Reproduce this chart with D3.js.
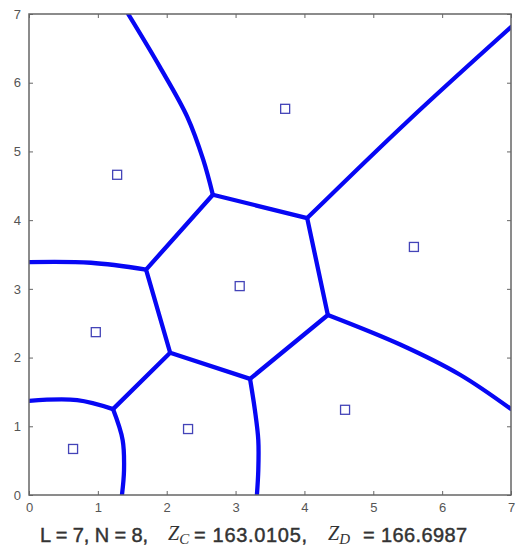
<!DOCTYPE html>
<html>
<head>
<meta charset="utf-8">
<script src="https://cdn.jsdelivr.net/npm/d3@7"></script>
<style>
  body { margin: 0; background: #fff; }
  svg { display: block; }
  .tick text { font-family: "Liberation Sans", Arial, sans-serif; font-size: 13px; fill: #555; }
  .tick line { stroke: #666; }
</style>
</head>
<body>
<script>
var svgWidth = 518;
var svgHeight = 554;

var margin = { top: 14, right: 7, bottom: 59, left: 29 };
var width = svgWidth - margin.left - margin.right;
var height = svgHeight - margin.top - margin.bottom;

// generator sites
var siteX = [0.64, 2.31, 4.59, 0.97, 3.06, 1.28, 3.72, 5.59];
var siteY = [0.67, 0.96, 1.24, 2.37, 3.04, 4.66, 5.62, 3.61];

// cell boundaries, each one a short list of [x, y] points
var edgeTop = [[2.67, 4.37], [2.53, 4.88], [2.30, 5.50], [1.90, 6.23], [1.44, 7.0]];
var edgeTopRight = [[4.04, 4.03], [5.50, 5.44], [7.0, 6.81]];
var edgeRight = [[4.34, 2.62], [5.39, 2.19], [6.26, 1.75], [7.0, 1.25]];
var edgeBottomMid = [[3.21, 1.69], [3.28, 1.24], [3.33, 0.80], [3.33, 0.36], [3.31, 0.0]];
var edgeLeft = [[1.70, 3.28], [0.90, 3.38], [0.0, 3.39]];
var edgeArcLeft = [[1.22, 1.25], [0.70, 1.38], [0.0, 1.37]];
var edgeArcDown = [[1.22, 1.25], [1.36, 0.80], [1.38, 0.36], [1.35, 0.0]];
var edgeLowLeft = [[2.05, 2.07], [1.22, 1.25]];
var hexagon = [[2.67, 4.37], [4.04, 4.03], [4.34, 2.62], [3.21, 1.69],
               [2.05, 2.07], [1.70, 3.28], [2.67, 4.37]];

var edges = [edgeTop, edgeTopRight, edgeRight, edgeBottomMid, edgeLeft,
             edgeArcLeft, edgeArcDown, edgeLowLeft];

var xTicks = [0, 1, 2, 3, 4, 5, 6, 7];
var yTicks = [0, 1, 2, 3, 4, 5, 6, 7];

var svg = d3.select("body")
    .append("svg")
    .attr("width", svgWidth)
    .attr("height", svgHeight);

var chartGroup = svg.append("g")
    .attr("transform", `translate(${margin.left}, ${margin.top})`);

var xScale = d3.scaleLinear().domain([0, 7]).range([0, width]);
var yScale = d3.scaleLinear().domain([0, 7]).range([height, 0]);

// clip so the curves stop at the box
chartGroup.append("clipPath")
    .attr("id", "plotClip")
    .append("rect")
    .attr("width", width)
    .attr("height", height);

var line = d3.line()
    .x(d => xScale(d[0]))
    .y(d => yScale(d[1]))
    .curve(d3.curveCatmullRom);

var straight = d3.line()
    .x(d => xScale(d[0]))
    .y(d => yScale(d[1]));

var edgeGroup = chartGroup.append("g").attr("clip-path", "url(#plotClip)");

edgeGroup.selectAll("path.edge")
    .data(edges)
    .enter()
    .append("path")
    .attr("class", "edge")
    .attr("d", line)
    .attr("fill", "none")
    .attr("stroke", "#0707f4")
    .attr("stroke-width", 4.3)
    .attr("stroke-linecap", "round");

edgeGroup.append("path")
    .datum(hexagon)
    .attr("d", straight)
    .attr("fill", "none")
    .attr("stroke", "#0707f4")
    .attr("stroke-width", 4.3)
    .attr("stroke-linejoin", "round");

// sites as small open squares
var sites = siteX.map((x, i) => [x, siteY[i]]);
chartGroup.selectAll("rect.site")
    .data(sites)
    .enter()
    .append("rect")
    .attr("class", "site")
    .attr("x", d => xScale(d[0]) - 4.5)
    .attr("y", d => yScale(d[1]) - 4.5)
    .attr("width", 9)
    .attr("height", 9)
    .attr("fill", "none")
    .attr("stroke", "#4444b8")
    .attr("stroke-width", 1.3);

// axes, ticks pointing inward on all four sides
var fmt = d3.format("d");

chartGroup.append("g")
    .attr("transform", `translate(0, ${height})`)
    .call(d3.axisBottom(xScale).tickValues(xTicks).tickFormat(fmt).tickSize(-4).tickSizeOuter(0).tickPadding(8))
    .call(g => g.select(".domain").remove());

chartGroup.append("g")
    .call(d3.axisLeft(yScale).tickValues(yTicks).tickFormat(fmt).tickSize(-4).tickSizeOuter(0).tickPadding(8))
    .call(g => g.select(".domain").remove());

chartGroup.append("g")
    .call(d3.axisTop(xScale).tickValues(xTicks).tickSize(-4).tickSizeOuter(0).tickFormat(""))
    .call(g => g.select(".domain").remove());

chartGroup.append("g")
    .attr("transform", `translate(${width}, 0)`)
    .call(d3.axisRight(yScale).tickValues(yTicks).tickSize(-4).tickSizeOuter(0).tickFormat(""))
    .call(g => g.select(".domain").remove());

chartGroup.append("rect")
    .attr("width", width)
    .attr("height", height)
    .attr("fill", "none")
    .attr("stroke", "#666")
    .attr("stroke-width", 1.5);

// caption under the plot
var sans = "'Liberation Sans', Arial, sans-serif";
var serif = "'Liberation Serif', 'DejaVu Serif', serif";
var caption = svg.append("g")
    .attr("fill", "#333")
    .style("font-family", sans)
    .style("font-size", "20px");

function sansPart(x, len, txt) {
    caption.append("text")
        .attr("x", x).attr("y", 542)
        .attr("textLength", len).attr("lengthAdjust", "spacing")
        .attr("stroke", "#333").attr("stroke-width", 0.45)
        .text(txt);
}
function zPart(x, sub) {
    var t = caption.append("text")
        .attr("x", x).attr("y", 540)
        .style("font-family", serif).style("font-style", "italic");
    t.append("tspan").style("font-size", "20px").text("Z");
    t.append("tspan").attr("dy", 4).style("font-size", "15px").text(sub);
}

sansPart(40, 108, "L = 7, N = 8,");
zPart(168, "C");
sansPart(194, 113, "= 163.0105,");
zPart(328, "D");
sansPart(363, 104, "= 166.6987");
</script>
</body>
</html>
